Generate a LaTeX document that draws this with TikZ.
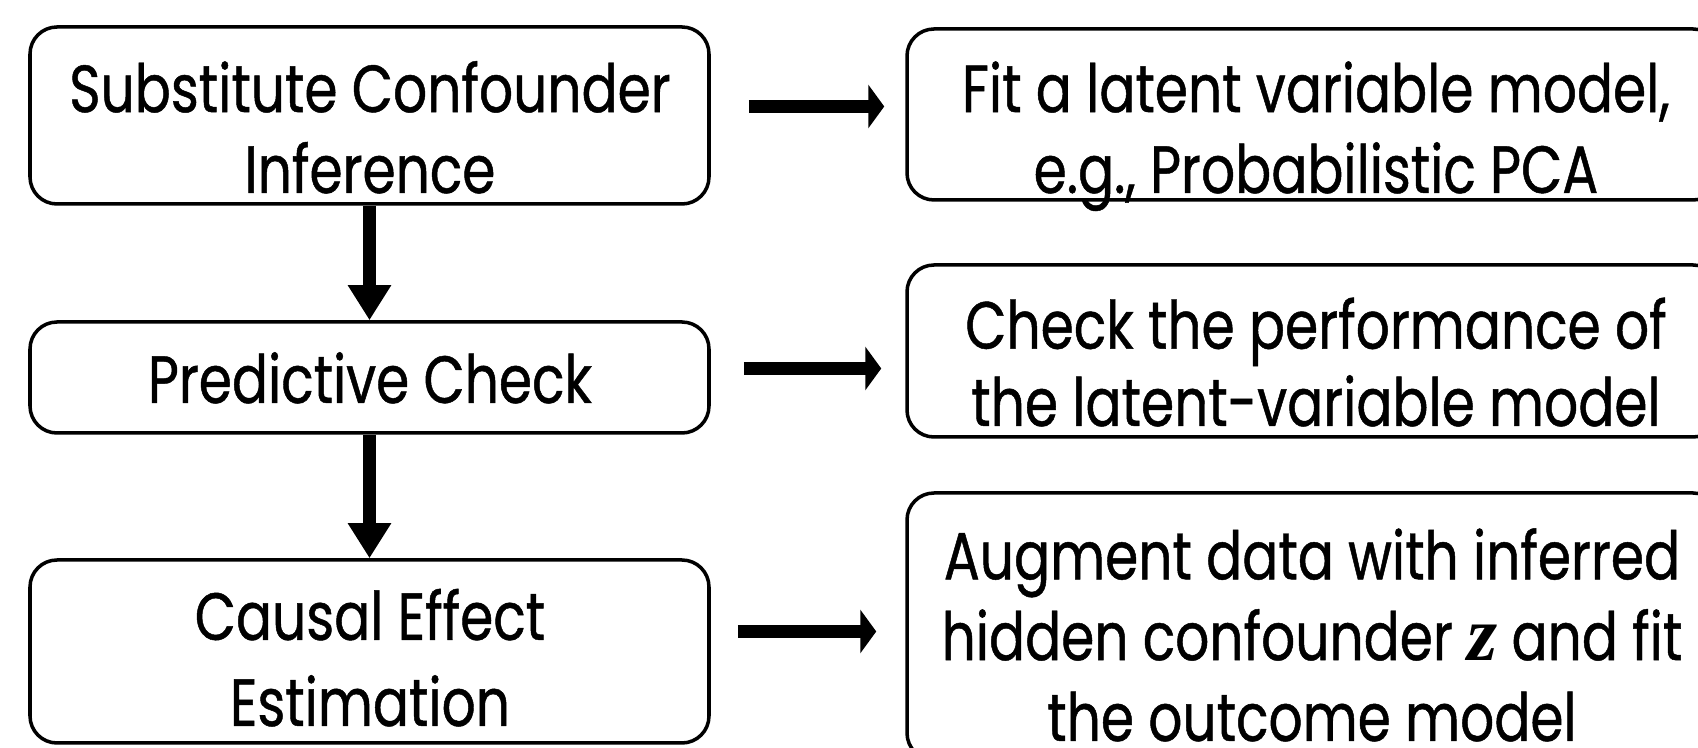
\documentclass[tikz,border=0pt]{standalone}
\usepackage{amsmath}
\usepackage{fontspec}
\setmainfont{Poppins}[FakeStretch=0.8, FakeBold=0.7]
\newfontfamily\zvarfont{Liberation Serif}
\usepackage{tikz}
\usetikzlibrary{arrows.meta}

\tikzset{
  stepbox/.style={draw, line width=1pt, rounded corners=2.7mm, inner sep=0pt},
  steptext/.style={anchor=base, align=center, inner sep=0pt, font=\fontsize{19}{23}\selectfont},
  downarrow/.style={line width=1.3mm, -{Triangle[length=3.5mm, width=4.1mm]}},
  rightarrow/.style={line width=1.3mm, -{Triangle[length=1.6mm, width=4.3mm]}}
}
\newcommand{\zvar}{{\zvarfont\bfseries\itshape\fontsize{22}{23}\selectfont z}}

\begin{document}
\begin{tikzpicture}[x=0.1mm, y=-0.1mm]
\useasboundingbox (0,0) rectangle (1698,748);
\clip (0,0) rectangle (1698,748);
% left column
\node[stepbox, minimum width=67.9mm, minimum height=17.7mm] (sci) at (369.5,115.5) {};
\node[stepbox, minimum width=67.9mm, minimum height=11.1mm] (pc) at (369.5,377.5) {};
\node[stepbox, minimum width=67.9mm, minimum height=18.3mm] (cee) at (369.5,651.5) {};
\node[steptext] (scitxt) at (370,193) {Substitute Confounder\\Inference};
\node[steptext] (pctxt) at (370,403) {Predictive Check};
\node[steptext, font=\fontsize{19}{24.5}\selectfont] (ceetxt) at (370,726) {Causal Effect\\Estimation};
% right column
\node[stepbox, minimum width=81.3mm, minimum height=17.1mm] (fit) at (1313.5,114.5) {};
\node[stepbox, minimum width=81.3mm, minimum height=17.2mm] (chk) at (1313.5,351) {};
\node[stepbox, minimum width=81.3mm, minimum height=26.7mm] (aug) at (1313.5,626.5) {};
\node[steptext] (fittxt) at (1316,193) {Fit a latent variable model,\\e.g., Probabilistic PCA};
\node[steptext, font=\fontsize{19}{22}\selectfont] (chktxt) at (1316,426) {Check the performance of\\the latent-variable model};
\node[steptext] (augtxt) at (1312,741) {Augment data with inferred\\hidden confounder \zvar\ and fit\\the outcome model};
% arrows
\draw[downarrow] (sci) -- (pc);
\draw[downarrow] (pc) -- (cee);
\draw[rightarrow, shorten <=3.8mm, shorten >=2.1mm] ([yshift=0.9mm]sci.east) -- ([yshift=0.9mm]sci.east -| fit.west);
\draw[rightarrow, shorten <=3.3mm, shorten >=2.4mm] ([yshift=0.9mm]pc.east) -- ([yshift=0.9mm]pc.east -| chk.west);
\draw[rightarrow, shorten <=2.7mm, shorten >=2.9mm] ([yshift=2mm]cee.east) -- ([yshift=2mm]cee.east -| aug.west);
\end{tikzpicture}
\end{document}
